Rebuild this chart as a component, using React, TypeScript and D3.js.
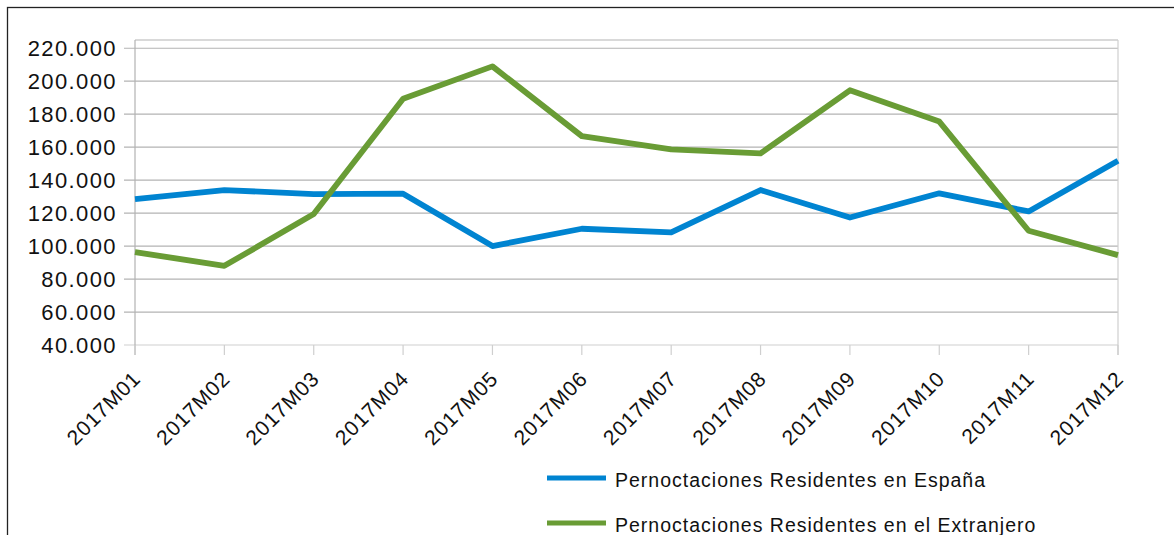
import React from "react";
import * as d3 from "d3";

const categories = ["2017M01","2017M02","2017M03","2017M04","2017M05","2017M06","2017M07","2017M08","2017M09","2017M10","2017M11","2017M12"];
const espana = [128500,134000,131500,131800,100000,110500,108300,134000,117300,132000,121000,151700];
const extranjero = [96400,88000,119400,189400,209000,166700,158600,156200,194500,175500,109300,94500];
const yTicks = [40000,60000,80000,100000,120000,140000,160000,180000,200000,220000];
const seriesNames = ["Pernoctaciones Residentes en España","Pernoctaciones Residentes en el Extranjero"];
const colors = ["#0084d1","#699c35"];

const labelFmt = (v: number) => `${Math.floor(v / 1000)}.${String(v % 1000).padStart(3, "0")}`;

export default function App() {
  const W = 1174, H = 535;
  const left = 135, right = 1118, top = 40, bottom = 345;
  const x = d3.scalePoint<string>().domain(categories).range([left, right]);
  const y = d3.scaleLinear().domain([40000, 225000]).range([bottom, top]);
  const line = d3.line<number>().x((_, i) => x(categories[i]) as number).y((d) => y(d));
  const series = [espana, extranjero];
  const font = "'Liberation Sans', Arial, sans-serif";
  return (
    <svg width={W} height={H} style={{ position: "absolute", left: 0, top: 0, background: "#fff" }} fontFamily={font}>
      <rect x={7.5} y={7.5} width={W + 20} height={H + 20} fill="none" stroke="#222" strokeWidth={1.3} />
      {yTicks.map((t) => (
        <g key={t}>
          <line x1={124} x2={right} y1={y(t)} y2={y(t)} stroke={t === 40000 ? "#cfcfcf" : "#b3b3b3"} strokeWidth={1.2} />
          <text x={117} y={y(t) + 8} textAnchor="end" fontSize={22} fill="#111" letterSpacing={1.4}>{labelFmt(t)}</text>
        </g>
      ))}
      <line x1={left} x2={right} y1={top} y2={top} stroke="#b3b3b3" strokeWidth={1.2} />
      <line x1={left} x2={left} y1={top} y2={bottom + 10} stroke="#b3b3b3" strokeWidth={1.2} />
      <line x1={right} x2={right} y1={top} y2={bottom + 10} stroke="#cfcfcf" strokeWidth={1.2} />
      {categories.map((c) => (
        <g key={c}>
          <line x1={x(c)} x2={x(c)} y1={bottom} y2={bottom + 10} stroke="#cfcfcf" strokeWidth={1.2} />
          <text transform={`translate(${(x(c) as number) + 7},${bottom + 35}) rotate(-45)`} textAnchor="end" fontSize={21} fill="#111" letterSpacing={0.9}>{c}</text>
        </g>
      ))}
      {series.map((s, i) => (
        <path key={i} d={line(s) || ""} fill="none" stroke={colors[i]} strokeWidth={5.8} strokeLinejoin="round" />
      ))}
      {seriesNames.map((n, i) => (
        <g key={n}>
          <line x1={547} x2={606} y1={478 + i * 45} y2={478 + i * 45} stroke={colors[i]} strokeWidth={5} />
          <text x={615} y={478 + i * 45 + 8.5} fontSize={19.5} fill="#111" letterSpacing={1.0}>{n}</text>
        </g>
      ))}
    </svg>
  );
}
